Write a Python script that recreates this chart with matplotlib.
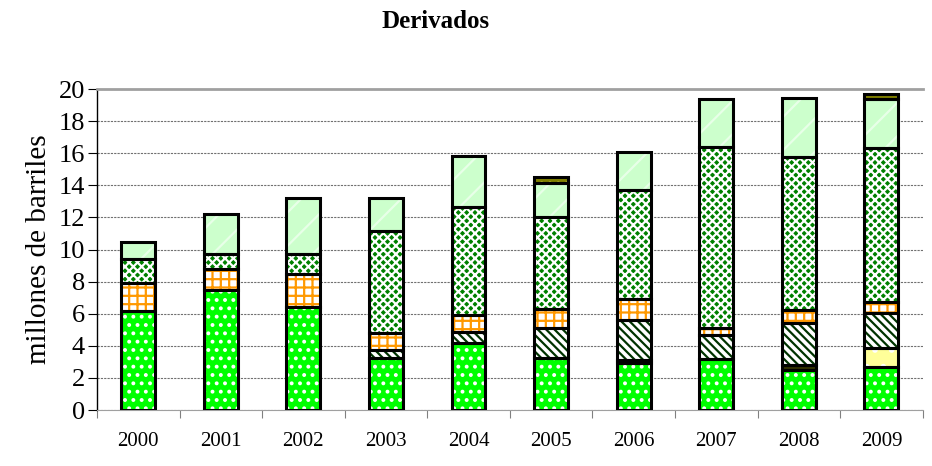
import numpy as np
import matplotlib
matplotlib.use("Agg")
import matplotlib.pyplot as plt

plt.rcParams['font.family'] = ['Liberation Serif', 'DejaVu Serif']
plt.rcParams['hatch.linewidth'] = 1.6

years = ["2000", "2001", "2002", "2003", "2004", "2005", "2006", "2007", "2008", "2009"]

# millones de barriles, capas de abajo hacia arriba
verde = [6.2, 7.48, 6.4, 3.22, 4.15, 3.22, 2.91, 3.16, 2.49, 2.66]
oscuro = [0, 0, 0, 0, 0, 0, 0, 0, 0.3, 0]
amarillo = [0, 0, 0, 0, 0, 0, 0.18, 0, 0, 1.18]
diagonal = [0, 0, 0, 0.52, 0.73, 1.87, 2.5, 1.51, 2.64, 2.18]
naranja = [1.7, 1.3, 2.05, 1.08, 1.04, 1.18, 1.31, 0.42, 0.79, 0.73]
cuadros = [1.5, 0.96, 1.25, 6.33, 6.75, 5.78, 6.84, 11.31, 9.55, 9.55]
claro = [1.05, 2.46, 3.5, 2.08, 3.18, 2.07, 2.35, 3.0, 3.7, 3.08]
oliva = [0, 0, 0, 0, 0, 0.42, 0, 0, 0, 0.3]

series = [
    (verde, "#00FF00", "white", ".."),
    (oscuro, "#333300", "#333300", None),
    (amarillo, "#FFFF99", "white", "."),
    (diagonal, "white", "#003300", "\\\\\\\\"),
    (naranja, "white", "#FF9900", "++"),
    (cuadros, "#008000", "white", "xxxx"),
    (claro, "#CCFFCC", "#E8FFE8", "/"),
    (oliva, "#808000", "#C0C040", ".."),
]

fig = plt.figure(figsize=(9.32, 4.66), dpi=100)
ax = fig.add_axes([0.104, 0.12, 0.886, 0.689])

x = np.arange(len(years))
w = 0.41
bottom = np.zeros(len(years))
for vals, face, hcol, hatch in series:
    vals = np.array(vals, dtype=float)
    mask = vals > 0
    ax.bar(x[mask], vals[mask], w, bottom=bottom[mask], color=face,
           edgecolor=hcol, hatch=hatch, linewidth=0, zorder=2)
    ax.bar(x[mask], vals[mask], w, bottom=bottom[mask], fill=False,
           edgecolor="black", linewidth=2.2, zorder=3)
    bottom += vals

ax.set_xlim(-0.5, len(years) - 0.5)
ax.set_ylim(0, 20)
ax.set_yticks(range(0, 21, 2))
ax.tick_params(axis='y', labelsize=19, length=6.5, direction='out', width=0.8, pad=2)
ax.set_xticks(x)
ax.set_xticklabels(years)
ax.tick_params(axis='x', which='major', length=0, labelsize=15, pad=16)
ax.set_xticks(np.arange(-0.5, len(years)), minor=True)
ax.tick_params(axis='x', which='minor', length=6, color='#808080', width=0.8)
ax.yaxis.grid(True, linestyle=(0, (2, 1)), color='#707070', linewidth=0.8, zorder=0)
ax.set_axisbelow(True)

ax.spines['right'].set_visible(False)
ax.spines['top'].set_color('#A0A0A0')
ax.spines['top'].set_linewidth(2)
ax.spines['bottom'].set_color('#A0A0A0')
ax.spines['left'].set_color('black')
ax.spines['left'].set_linewidth(1)

ax.set_ylabel("millones de barriles", fontsize=21, labelpad=5)
fig.text(0.467, 0.953, "Derivados", ha='center', va='center', fontsize=18, fontweight='bold')

fig.savefig("out.png", dpi=100)
